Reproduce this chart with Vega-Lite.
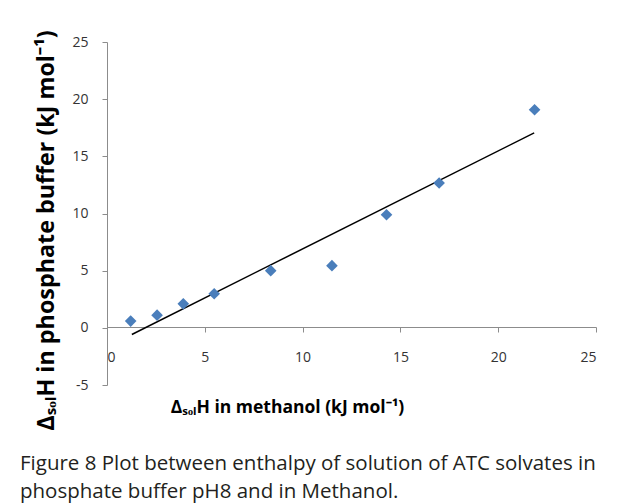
{
  "$schema": "https://vega.github.io/schema/vega-lite/v6.json",
  "width": 489,
  "height": 343,
  "autosize": {"type": "none"},
  "padding": {"left": 107, "top": 42, "right": 33, "bottom": 119},
  "background": "white",
  "config": {"view": {"stroke": null}, "font": "Lato"},
  "title": {
    "text": ["Figure 8 Plot between enthalpy of solution of ATC solvates in", "phosphate buffer pH8 and in Methanol."],
    "orient": "bottom",
    "anchor": "start",
    "frame": "group",
    "font": "Open Sans",
    "fontSize": 20.5,
    "fontWeight": "normal",
    "color": "#231f20",
    "lineHeight": 28,
    "dx": -87,
    "offset": 24
  },
  "datasets": {
    "points": [
      {"x": 1.21, "y": 0.59},
      {"x": 2.56, "y": 1.11},
      {"x": 3.90, "y": 2.10},
      {"x": 5.48, "y": 2.98},
      {"x": 8.37, "y": 5.00},
      {"x": 11.50, "y": 5.44},
      {"x": 14.29, "y": 9.89},
      {"x": 16.98, "y": 12.67},
      {"x": 21.86, "y": 19.07}
    ],
    "trend": [
      {"x": 1.27, "y": -0.58},
      {"x": 21.84, "y": 17.05}
    ]
  },
  "layer": [
    {
      "data": {"name": "trend"},
      "mark": {"type": "line", "color": "black", "strokeWidth": 1.5},
      "encoding": {
        "x": {"field": "x", "type": "quantitative"},
        "y": {"field": "y", "type": "quantitative"}
      }
    },
    {
      "data": {"name": "points"},
      "mark": {"type": "point", "shape": "diamond", "filled": true, "size": 135, "color": "#4a7ebb", "opacity": 1},
      "encoding": {
        "x": {
          "field": "x", "type": "quantitative",
          "scale": {"domain": [0, 25], "nice": false, "zero": false},
          "axis": {
            "values": [0, 5, 10, 15, 20, 25],
            "grid": false,
            "offset": -58,
            "domainColor": "#8c8c8c",
            "tickColor": "#8c8c8c",
            "tickSize": 5,
            "labelFont": "Open Sans",
            "labelFontSize": 14,
            "labelColor": "#333333",
            "labelPadding": 18,
            "title": "ΔₛₒₗH in methanol  (kJ mol⁻¹)",
            "titleFont": "Open Sans",
            "titleFontSize": 17.5,
            "titleFontWeight": "bold",
            "titleColor": "#000000",
            "titleX": 180,
            "titleY": 80,
            "titleAlign": "center",
            "titleBaseline": "middle"
          }
        },
        "y": {
          "field": "y", "type": "quantitative",
          "scale": {"domain": [-5, 25], "nice": false, "zero": false},
          "axis": {
            "values": [-5, 0, 5, 10, 15, 20, 25],
            "grid": false,
            "domainColor": "#8c8c8c",
            "tickColor": "#8c8c8c",
            "tickSize": 5,
            "labelFont": "Open Sans",
            "labelFontSize": 14,
            "labelColor": "#333333",
            "labelPadding": 14,
            "labelExpr": "replace(datum.label, '−', '-')",
            "title": "ΔₛₒₗH in phosphate buffer (kJ mol⁻¹)",
            "titleFont": "Open Sans",
            "titleFontSize": 23.3,
            "titleFontWeight": "bold",
            "titleColor": "#000000",
            "titleX": -61,
            "titleY": 188,
            "titleAngle": 270,
            "titleAlign": "center",
            "titleBaseline": "middle"
          }
        }
      }
    }
  ]
}
